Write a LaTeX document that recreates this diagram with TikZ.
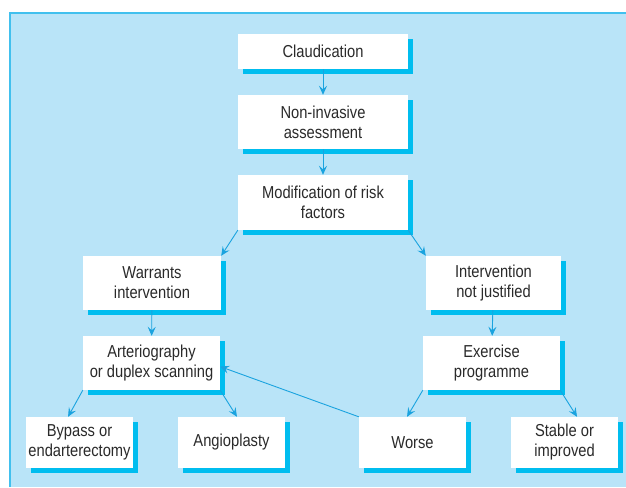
\documentclass[tikz,border=0pt]{standalone}
\usepackage{fontspec}
\setmainfont{Liberation Sans}[FakeStretch=0.85]
\usepackage{tikz}
\usetikzlibrary{arrows.meta,shadows}
\definecolor{panelblue}{HTML}{B9E4F8}
\definecolor{panelline}{HTML}{41C0EE}
\definecolor{shadecyan}{HTML}{00BDEF}
\definecolor{arrowblue}{HTML}{1AA3DF}
\definecolor{textgray}{HTML}{2A2A2A}

\begin{document}
\begin{tikzpicture}[x=1pt,y=-1pt,
    box/.style={rectangle,fill=white,align=center,inner sep=0pt,
        text=textgray,font=\fontsize{17.3}{20}\selectfont,
        drop shadow={shadow xshift=5pt,shadow yshift=-5pt,fill=shadecyan,opacity=1}},
    arr/.style={draw=arrowblue,line width=0.9pt,
        -{Stealth[length=9pt,width=8pt,inset=3.5pt]}}]
                \useasboundingbox (0,0) rectangle (626,487);
                \fill[panelblue] (10,13) rectangle (626,487);
                \draw[panelline,line width=1.5pt] (10,487) -- (10,13) -- (626,13);
                \node [box,minimum width=170pt,minimum height=35pt] (claud) at (323,51.5) {Claudication};
                \node [box,minimum width=170pt,minimum height=54pt] (noninv) at (323,122) {Non-invasive\\assessment};
                \node [box,minimum width=170pt,minimum height=55pt] (modif) at (323,202.5) {Modification of risk\\factors};
                \node [box,minimum width=138pt,minimum height=54pt] (warr) at (152,283) {Warrants\\intervention};
                \node [box,minimum width=135pt,minimum height=54pt] (notjust) at (493.5,283) {Intervention\\not justified};
                \node [box,minimum width=137pt,minimum height=54pt] (arter) at (151.5,363) {Arteriography\\or duplex scanning};
                \node [box,minimum width=137pt,minimum height=54pt] (exerc) at (491.5,363) {Exercise\\programme};
                \node [box,minimum width=107pt,minimum height=51pt] (bypass) at (79.5,442.5) {Bypass or\\endarterectomy};
                \node [box,minimum width=107pt,minimum height=51pt] (angio) at (231.5,442.5) {Angioplasty};
                \node [box,minimum width=107pt,minimum height=51pt] (worse) at (412.5,442.5) {Worse};
                \node [box,minimum width=107pt,minimum height=51pt] (stable) at (564.5,442.5) {Stable or\\improved};
                \draw[arr] (claud) -- (noninv);
                \draw[arr] (noninv) -- (modif);
                \draw[arr] (modif.south west) -- (warr.north east);
                \draw[arr] (modif.south east) -- (notjust.north west);
                \draw[arr] (warr) -- (arter);
                \draw[arr] (notjust) -- (exerc);
                \draw[arr] (arter.south west) -- (bypass.114);
                \draw[arr] (arter.south east) -- (angio.78);
                \draw[arr] (exerc.south west) -- (worse.102);
                \draw[arr] (exerc.south east) -- (stable.64);
                \draw[arr] (worse.north west) -- (arter.-3);
            \end{tikzpicture}
\end{document}
